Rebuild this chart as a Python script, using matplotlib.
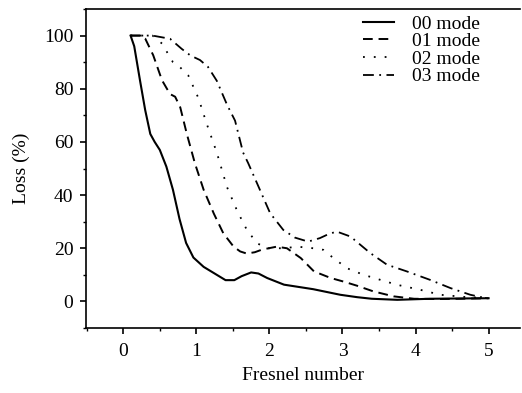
import matplotlib
matplotlib.use("Agg")
import matplotlib.pyplot as plt
from matplotlib.ticker import MultipleLocator

plt.rcParams["font.family"] = ["Liberation Serif", "DejaVu Serif"]

# ---- data (Fresnel number vs loss %) ----
x_00 = [0.1, 0.15, 0.23, 0.3, 0.37, 0.43, 0.5, 0.59, 0.68, 0.77, 0.86, 0.96, 1.1, 1.25,
        1.4, 1.52, 1.62, 1.75, 1.85, 1.97, 2.2, 2.6, 2.97, 3.2, 3.4, 3.75, 4.2, 4.6, 5.0]
y_00 = [100, 96, 83, 72, 63, 60, 57, 50.7, 42, 31, 22, 16.5, 13, 10.5,
        8, 8, 9.5, 10.9, 10.5, 8.8, 6.3, 4.6, 2.5, 1.6, 1.0, 0.6, 1.0, 1.1, 1.2]

x_01 = [0.1, 0.25, 0.3, 0.41, 0.53, 0.64, 0.71, 0.78, 0.87, 0.98, 1.1, 1.24, 1.37, 1.51,
        1.6, 1.69, 1.8, 1.9, 2.1, 2.24, 2.43, 2.61, 2.84, 3.01, 3.2, 3.42, 3.7, 3.98,
        4.3, 4.6, 5.0]
y_01 = [100, 100, 98.9, 92.6, 83.2, 78, 77, 73, 63, 52, 42, 33, 25.6, 20.6,
        18.8, 18, 18.5, 19.5, 20.6, 20, 16.3, 11.3, 8.8, 7.5, 5.9, 3.8, 1.9, 1.0,
        0.9, 1.0, 1.2]

x_02 = [0.1, 0.4, 0.53, 0.68, 0.78, 0.89, 1.03, 1.14, 1.28, 1.42, 1.56, 1.69, 1.83, 1.97,
        2.2, 2.38, 2.6, 2.74, 2.85, 3.06, 3.29, 3.52, 3.74, 4.06, 4.34, 4.66, 5.0]
y_02 = [100, 100, 97, 90, 88, 85, 76.4, 67, 56, 43, 34, 27, 21.9, 20,
        20, 20.6, 20, 19.4, 16.9, 12.5, 10, 8.1, 6.3, 4.4, 2.5, 1.7, 1.2]

x_03 = [0.1, 0.4, 0.64, 0.8, 0.92, 1.05, 1.16, 1.28, 1.42, 1.53, 1.64, 1.71, 1.83, 2.01,
        2.19, 2.35, 2.53, 2.69, 2.8, 2.92, 3.11, 3.38, 3.61, 3.88, 4.2, 4.48, 4.75, 4.95]
y_03 = [100, 100, 98.8, 95, 92.5, 90.8, 88.2, 83, 74, 68, 56, 52, 44.5, 33.2,
        26.9, 24, 22.5, 23.8, 25.2, 26.3, 24.4, 18.2, 13.8, 11.3, 8.1, 5.0, 2.5, 1.3]

labels = ["00 mode", "01 mode", "02 mode", "03 mode"]

fig = plt.figure(figsize=(5.22, 3.93), dpi=100)
ax = fig.add_axes([86 / 522, 65 / 393, 434 / 522, 319 / 393])

ax.plot(x_00, y_00, color="black", lw=1.5, linestyle="-", label=labels[0])
ax.plot(x_01, y_01, color="black", lw=1.4, linestyle=(0, (5, 3)), label=labels[1])
ax.plot(x_02, y_02, color="black", lw=1.3, linestyle=(0, (1, 5)), label=labels[2])
ax.plot(x_03, y_03, color="black", lw=1.3, linestyle=(0, (6, 3, 1, 3)), label=labels[3])

ax.set_xlim(-0.51, 5.43)
ax.set_ylim(-10, 110)
ax.xaxis.set_major_locator(MultipleLocator(1))
ax.xaxis.set_minor_locator(MultipleLocator(0.5))
ax.yaxis.set_major_locator(MultipleLocator(20))
ax.yaxis.set_minor_locator(MultipleLocator(10))

ax.spines["right"].set_visible(False)
for s in ("left", "top", "bottom"):
    ax.spines[s].set_linewidth(1.2)

ax.tick_params(which="major", direction="out", length=4, width=1.2, labelsize=14)
ax.tick_params(axis="x", which="major", pad=7)
ax.tick_params(axis="y", which="major", pad=5)
ax.tick_params(which="minor", direction="out", length=2.2, width=1.0)
ax.tick_params(top=False, right=False)

ax.set_xlabel("Fresnel number", fontsize=14, labelpad=5)
ax.set_ylabel("Loss (%)", fontsize=14, labelpad=10)

ax.legend(loc="upper left", bbox_to_anchor=(363 / 522, 1 - 15 / 393),
          bbox_transform=fig.transFigure, frameon=False, fontsize=14,
          handlelength=1.6, handletextpad=0.9, labelspacing=0.0,
          borderpad=0, borderaxespad=0)

fig.savefig("out.png", dpi=100)
